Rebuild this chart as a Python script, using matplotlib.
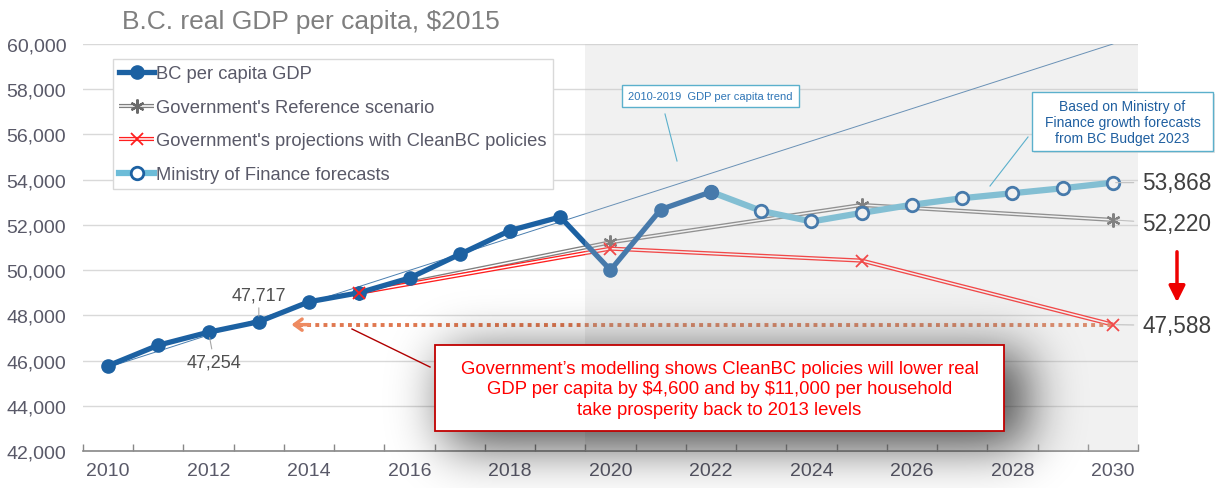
import numpy as np
import matplotlib
matplotlib.use('Agg')
import matplotlib.pyplot as plt
from matplotlib.patches import Rectangle, FancyArrowPatch
from matplotlib.lines import Line2D
from matplotlib.legend_handler import HandlerTuple

plt.rcParams['font.family'] = ['Liberation Sans', 'DejaVu Sans']

# ---------------- data ----------------
hist_years = [2010, 2011, 2012, 2013, 2014, 2015, 2016, 2017, 2018, 2019, 2020, 2021, 2022]
hist_values = [45770, 46680, 47254, 47717, 48600, 49000, 49650, 50700, 51750, 52350, 50000, 52680, 53460]

mof_years = [2022, 2023, 2024, 2025, 2026, 2027, 2028, 2029, 2030]
mof_values = [53460, 52620, 52150, 52530, 52890, 53180, 53400, 53620, 53868]

ref_years = [2015, 2020, 2025, 2030]
ref_values = [49000, 51230, 52880, 52220]

clean_years = [2015, 2020, 2025, 2030]
clean_values = [49000, 50950, 50420, 47588]

trend_years = [2010, 2030]
trend_values = [45700, 60000]

labelled_years = [2012, 2013]
labelled_values = [47254, 47717]

end_labels = [53868, 52220, 47588]

y_ticks = [42000, 44000, 46000, 48000, 50000, 52000, 54000, 56000, 58000, 60000]
x_labels = [2010, 2012, 2014, 2016, 2018, 2020, 2022, 2024, 2026, 2028, 2030]

series_names = ["BC per capita GDP", "Government's Reference scenario",
                "Government's projections with CleanBC policies", "Ministry of Finance forecasts"]

title = "B.C. real GDP per capita, \\$2015"
callout = ("Government\u2019s modelling shows CleanBC policies will lower real\n"
           "GDP per capita by \\$4,600 and by \\$11,000 per household\n"
           "take prosperity back to 2013 levels")
trend_note = "2010-2019  GDP per capita trend"
mof_note = "Based on Ministry of\nFinance growth forecasts\nfrom BC Budget 2023"

# ---------------- styles ----------------
BLUE = '#1c61a2'
LBLUE = '#6cbcd8'
GRAY = '#7f7f7f'
RED = '#ff1f1f'
TXT = '#595968'
FW, FH = 1222, 489


def fx(p):
    return p / FW


def fy(p):
    return 1 - p / FH


fig = plt.figure(figsize=(FW / 100, FH / 100), dpi=100)
L, R, T, B = 83, 1138, 45, 452
ax = fig.add_axes([fx(L), fy(B), fx(R) - fx(L), (B - T) / FH])

ax.set_xlim(2009.5, 2030.5)
ax.set_ylim(42000, 60000)
ax.set_yticks(y_ticks)
ax.set_yticklabels([f'{v:,}' for v in y_ticks])
ax.set_xticks(x_labels)
ax.set_xticklabels([str(v) for v in x_labels])
ax.set_xticks(np.arange(2009.5, 2031, 1.0), minor=True)
ax.tick_params(axis='x', which='major', length=0, pad=8, labelsize=14, labelcolor=TXT)
ax.tick_params(axis='x', which='minor', direction='in', length=5, color='#888888', width=1)
ax.tick_params(axis='y', length=0, pad=12, labelsize=14, labelcolor=TXT)
for s in ['left', 'right', 'top']:
    ax.spines[s].set_visible(False)
ax.spines['bottom'].set_color('#888888')
ax.spines['bottom'].set_linewidth(1.2)
ax.grid(axis='y', color='#d9d9d9', lw=1)
ax.set_axisbelow(True)

# trend line
ax.plot(trend_years, trend_values, color='#4a7fb0', lw=0.7, zorder=2)

# reference scenario (double gray)
r1, = ax.plot(ref_years, ref_values, color=GRAY, lw=3.0, zorder=3, solid_capstyle='butt')
r2, = ax.plot(ref_years, ref_values, color='white', lw=1.1, zorder=3.05, solid_capstyle='butt')
r3, = ax.plot(ref_years, ref_values, ls='none', marker=(6, 2, 0), ms=10, mew=1.6,
              color='#6a6a6a', zorder=3.1)

# CleanBC (double red)
c1, = ax.plot(clean_years, clean_values, color=RED, lw=3.0, zorder=3.2, solid_capstyle='butt')
c2, = ax.plot(clean_years, clean_values, color='white', lw=1.1, zorder=3.25, solid_capstyle='butt')
c3, = ax.plot(clean_years, clean_values, ls='none', marker='x', ms=9, mew=1.3,
              color=RED, zorder=4.5)

# MoF forecasts
m1, = ax.plot(mof_years, mof_values, color=LBLUE, lw=4.5, zorder=3.6,
              marker='o', ms=9, mfc='white', mec=BLUE, mew=2)

# historical
h1, = ax.plot(hist_years, hist_values, color=BLUE, lw=3.8, marker='o', ms=9.5, zorder=4)

# shaded forecast region (semi transparent overlay)
ax.axvspan(2019.5, 2030.5, color='#c8c8c8', alpha=0.25, lw=0, zorder=5)

# value labels on points
ax.annotate(f'{labelled_values[1]:,}', xy=(labelled_years[1], labelled_values[1]),
            xytext=(0, 13), textcoords='offset points', ha='center', va='bottom',
            fontsize=13, color='#505050', zorder=6,
            arrowprops=dict(arrowstyle='-', color='#a6a6a6', lw=0.8, shrinkA=1, shrinkB=4))
ax.annotate(f'{labelled_values[0]:,}', xy=(labelled_years[0], labelled_values[0]),
            xytext=(4, -15), textcoords='offset points', ha='center', va='top',
            fontsize=13, color='#505050', zorder=6,
            arrowprops=dict(arrowstyle='-', color='#a6a6a6', lw=0.8, shrinkA=1, shrinkB=4))

# end labels
end_offsets = [0, -4, -1]
for v, dy in zip(end_labels, end_offsets):
    ax.annotate(f'{v:,}', xy=(2030, v), xytext=(21, dy * 0.72), textcoords='offset points',
                ha='left', va='center', fontsize=16.3, color='#404040',
                annotation_clip=False, zorder=6,
                arrowprops=dict(arrowstyle='-', color='#c0c0c0', lw=0.8, shrinkA=4, shrinkB=2))

# dotted arrow back to 2013 levels
ARROW_TIP = 2013.65
ax.plot([ARROW_TIP + 0.15, clean_years[-1]], [clean_values[-1]] * 2, color='#e07850',
        lw=2.8, ls=(0, (1, 1.1)), zorder=4.2)
ax.annotate('', xy=(ARROW_TIP, clean_values[-1]), xytext=(ARROW_TIP + 0.35, clean_values[-1]),
            arrowprops=dict(arrowstyle='->,head_length=0.55,head_width=0.4', color='#ee8a60',
                            lw=2.5, shrinkA=0, shrinkB=0), zorder=4.3)

# legend
leg = ax.legend([h1, (r1, r2, r3), (c1, c2, c3), m1], series_names,
                handler_map={tuple: HandlerTuple(ndivide=1)},
                loc='upper left', bbox_to_anchor=(fx(113), fy(60)), bbox_transform=fig.transFigure,
                borderaxespad=0, fontsize=13.2, labelcolor=TXT, frameon=True, fancybox=False,
                edgecolor='#d9d9d9', framealpha=1, handlelength=1.9, handletextpad=0.1,
                labelspacing=0.9, borderpad=0.35)
leg.get_frame().set_linewidth(1)
leg.set_zorder(10)

# title
fig.text(fx(122), fy(22), title, fontsize=19, color='#7f7f7f', ha='left', va='center')

# soft shadow behind callout box
mask = np.zeros((FH, FW))
mask[354:446, 446:1026] = 1.0
sig = 26
k = np.arange(-3 * sig, 3 * sig + 1)
g = np.exp(-k ** 2 / (2.0 * sig ** 2))
g /= g.sum()
blur = np.apply_along_axis(lambda r: np.convolve(r, g, mode='same'), 1, mask)
blur = np.apply_along_axis(lambda c: np.convolve(c, g, mode='same'), 0, blur)
rgba = np.zeros((FH, FW, 4))
rgba[..., 3] = blur * 0.72
fig.figimage(rgba, 0, 0, origin='upper', zorder=2)

# callout box
bx0, by0, bx1, by1 = 435, 346, 1004, 432
fig.add_artist(Rectangle((fx(bx0), fy(by1)), fx(bx1) - fx(bx0), (by1 - by0) / FH,
                         transform=fig.transFigure, facecolor='white', edgecolor='#c00000',
                         lw=1.3, zorder=3))
fig.text(fx((bx0 + bx1) / 2), fy(390), callout, ha='center', va='center', fontsize=13.3,
         color='#ff0000', linespacing=1.3, zorder=4)
fig.add_artist(Line2D([fx(352), fx(430)], [fy(330), fy(368)], transform=fig.transFigure,
                      color='#b00000', lw=1, zorder=4))

# trend note
tx0, ty0, tx1, ty1 = 622, 86, 799, 108
fig.add_artist(Rectangle((fx(tx0), fy(ty1)), fx(tx1) - fx(tx0), (ty1 - ty0) / FH,
                         transform=fig.transFigure, facecolor='white', edgecolor='#5bb0cc',
                         lw=1, zorder=3))
fig.text(fx((tx0 + tx1) / 2), fy(97.5), trend_note, ha='center', va='center', fontsize=8.0,
         color='#2e75b6', zorder=4)
fig.add_artist(Line2D([fx(665), fx(677)], [fy(115), fy(162)], transform=fig.transFigure,
                      color='#5bb0cc', lw=0.8, zorder=4))

# MoF note
nx0, ny0, nx1, ny1 = 1032, 93, 1213, 152
fig.add_artist(Rectangle((fx(nx0 + 2), fy(ny1 + 2)), fx(nx1) - fx(nx0), (ny1 - ny0) / FH,
                         transform=fig.transFigure, facecolor='#d0d0d0', edgecolor='none',
                         alpha=0.6, zorder=2.9))
fig.add_artist(Rectangle((fx(nx0), fy(ny1)), fx(nx1) - fx(nx0), (ny1 - ny0) / FH,
                         transform=fig.transFigure, facecolor='white', edgecolor='#5bb0cc',
                         lw=1, zorder=3))
fig.text(fx((nx0 + nx1) / 2), fy(123), mof_note, ha='center', va='center', fontsize=10,
         color='#1f5fa0', linespacing=1.2, zorder=4)
fig.add_artist(Line2D([fx(1028), fx(990)], [fy(138), fy(187)], transform=fig.transFigure,
                      color='#5bb0cc', lw=0.8, zorder=4))

# red down arrow
fig.add_artist(FancyArrowPatch((fx(1177), fy(250)), (fx(1177), fy(306)),
                               transform=fig.transFigure, arrowstyle='-|>,head_length=0.7,head_width=0.35',
                               mutation_scale=14, color='#ee0000', lw=2.5, zorder=4))

fig.savefig('out.png', dpi=100)
